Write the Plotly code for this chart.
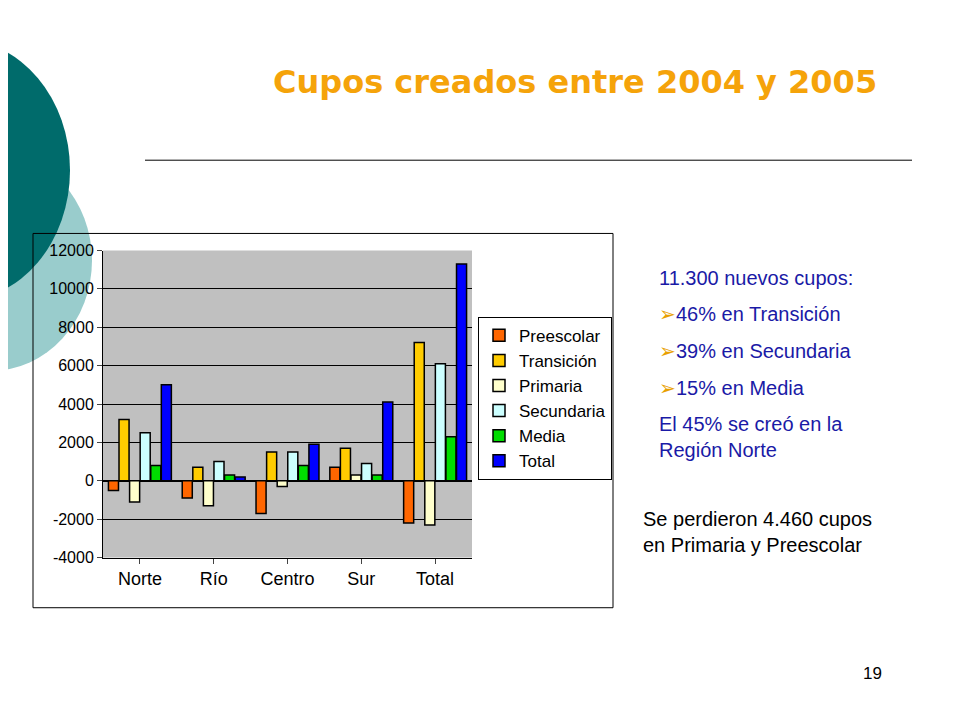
import plotly.graph_objects as go

categories = ["Norte", "Río", "Centro", "Sur", "Total"]
series_names = ["Preescolar", "Transición", "Primaria", "Secundaria", "Media", "Total"]
preescolar = [-500, -900, -1700, 700, -2200]
transicion = [3200, 700, 1500, 1700, 7200]
primaria = [-1100, -1300, -300, 300, -2300]
secundaria = [2500, 1000, 1500, 900, 6100]
media = [800, 300, 800, 300, 2300]
total = [5000, 200, 1900, 4100, 11300]
colors = ["#FF6600", "#FFCC00", "#FFFFCC", "#CCFFFF", "#00DD00", "#0000FF"]
y_ticks = [-4000, -2000, 0, 2000, 4000, 6000, 8000, 10000, 12000]
y_tick_text = ["-4000", "-2000", "0", "2000", "4000", "6000", "8000", "10000", "12000"]

W, H = 960, 720
def px(x): return (x - 8) / W
def py(y): return 1 - (y - 16.3) / 700.6

fig = go.Figure()
for name, vals, c in zip(series_names, [preescolar, transicion, primaria, secundaria, media, total], colors):
    fig.add_trace(go.Bar(x=categories, y=vals, name=name, marker=dict(color=c, line=dict(color="black", width=1.5))))

shapes = [
    dict(type="circle", xref="paper", yref="paper", x0=px(-110), x1=px(92), y0=py(370), y1=py(150),
         fillcolor="#99CCCC", line_width=0, layer="below"),
    dict(type="circle", xref="paper", yref="paper", x0=px(-150), x1=px(70), y0=py(300), y1=py(40),
         fillcolor="#006B6B", line_width=0, layer="below"),
    dict(type="line", xref="paper", yref="paper", x0=px(145), x1=px(912), y0=py(160), y1=py(160),
         line=dict(color="black", width=1)),
    dict(type="rect", xref="paper", yref="paper", x0=px(33), x1=px(613), y0=py(606), y1=py(233),
         line=dict(color="black", width=1), fillcolor="rgba(0,0,0,0)"),
]
fig.update_layout(
    width=W, height=H, margin=dict(l=0, r=0, t=0, b=0),
    paper_bgcolor="white", plot_bgcolor="#C0C0C0",
    barmode="group", bargap=0.14, bargroupgap=0.05,
    font=dict(family="Arial, Liberation Sans", size=17, color="black"),
    xaxis=dict(domain=[px(103), px(472)], showline=True, linecolor="black", ticks="outside",
               tickfont=dict(size=18)),
    yaxis=dict(domain=[py(556), py(250)], range=[-4000, 12000], tickvals=y_ticks, ticktext=y_tick_text,
               showgrid=True, gridcolor="black", gridwidth=1, zeroline=True, zerolinecolor="black",
               showline=True, linecolor="black", ticks="outside", tickfont=dict(size=16)),
    legend=dict(x=px(478), y=py(316), xanchor="left", yanchor="top", bordercolor="black", borderwidth=1,
                bgcolor="white", font=dict(size=17), tracegroupgap=10),
    shapes=shapes,
    showlegend=True,
)
blue = "#1A1AA6"
ann = [
    dict(text="<b>Cupos creados entre 2004 y 2005</b>", x=px(575), y=py(82), font=dict(size=32, color="#F5A30A", family="DejaVu Sans"), xanchor="center"),
    dict(text="11.300 nuevos cupos:", x=px(657), y=py(277), font=dict(size=20, color=blue), xanchor="left"),
    dict(text="<span style='color:#E8A000'>➢</span>46% en Transición", x=px(657), y=py(313), font=dict(size=20, color=blue), xanchor="left"),
    dict(text="<span style='color:#E8A000'>➢</span>39% en Secundaria", x=px(657), y=py(350), font=dict(size=20, color=blue), xanchor="left"),
    dict(text="<span style='color:#E8A000'>➢</span>15% en Media", x=px(657), y=py(387), font=dict(size=20, color=blue), xanchor="left"),
    dict(text="El 45% se creó en la<br>Región Norte", x=px(657), y=py(436), font=dict(size=20, color=blue), xanchor="left", align="left"),
    dict(text="Se perdieron 4.460 cupos<br>en Primaria y Preescolar", x=px(641), y=py(531), font=dict(size=20, color="black"), xanchor="left", align="left"),
    dict(text="19", x=px(884), y=py(672), font=dict(size=17, color="black")),
]
for a in ann:
    a.update(xref="paper", yref="paper", showarrow=False)
    a.setdefault("yanchor", "middle")
fig.update_layout(annotations=ann)
fig.write_html("out.html")
